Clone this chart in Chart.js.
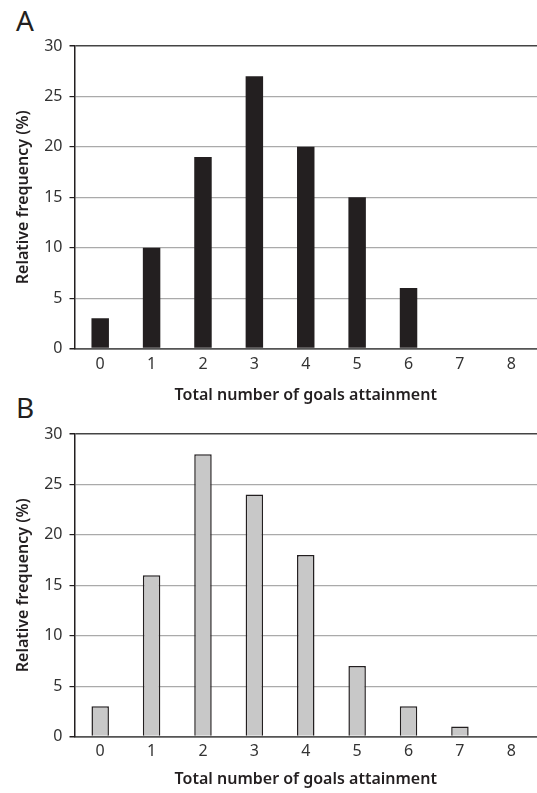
<!DOCTYPE html>
<html>
<head>
<meta charset="utf-8">
<script src="https://cdn.jsdelivr.net/npm/chart.js@4/dist/chart.umd.min.js"></script>
<style>
  body { margin: 0; background: #fff; width: 537px; height: 793px; position: relative; overflow: hidden; }
  .panel { position: absolute; left: 0; width: 537px; }
  .tag { position: absolute; left: 16px; font-family: "Noto Sans", sans-serif; font-size: 28px; color: #231f20; line-height: 1; }
</style>
</head>
<body>
<div class="tag" style="top:6px">A</div>
<div class="tag" style="top:393px">B</div>
<div class="panel" style="top:0; height:409px"><canvas id="canvasA"></canvas></div>
<div class="panel" style="top:389px; height:404px"><canvas id="canvasB"></canvas></div>
<script>
var goals = ['0', '1', '2', '3', '4', '5', '6', '7', '8'];
var freqA = [3, 10, 19, 27, 20, 15, 6, 0, 0];
var freqB = [3, 16, 28, 24, 18, 7, 3, 1, 0];
var yTicks = [0, 5, 10, 15, 20, 25, 30];

var fontTick = { family: 'Noto Sans', size: 16 };
var fontTitle = { family: 'Noto Sans', size: 16, weight: '600' };

// padTop: space above the plot, tickPad / titlePad: gaps under the x axis
function makeOptions(padTop, tickPad, titlePad){
    return {
        responsive: true,
        maintainAspectRatio: false,
        animation: false,
        layout: { padding: { top: padTop, right: 0, left: 10, bottom: 0 } },
        plugins: { legend: { display: false }, tooltip: { enabled: false } },
        scales: {
            x: {
                grid: { display: false, drawTicks: false },
                border: { display: true, color: '#555555', width: 1.5 },
                ticks: { color: '#333333', font: fontTick, padding: tickPad },
                title: { display: true, text: 'Total number of goals attainment', color: '#231f20', font: fontTitle, padding: { top: titlePad } }
            },
            y: {
                min: 0,
                max: 30,
                afterBuildTicks: function(axis){
                    axis.ticks = yTicks.map(function(v){ return { value: v }; });
                },
                grid: {
                    color: function(ctx){
                        if (ctx.tick && ctx.tick.value === 30) return '#444444';
                        if (ctx.tick && ctx.tick.value === 0) return '#555555';
                        return '#aaaaaa';
                    },
                    lineWidth: function(ctx){
                        return (ctx.tick && (ctx.tick.value === 30 || ctx.tick.value === 0)) ? 1.5 : 1.2;
                    },
                    tickColor: '#231f20',
                    tickLength: 5
                },
                border: { display: true, color: '#231f20', width: 1.5 },
                ticks: { color: '#333333', font: fontTick, padding: 7 },
                title: { display: true, text: 'Relative frequency (%)', color: '#231f20', font: fontTitle, padding: { bottom: 4 } }
            }
        }
    };
}

new Chart(document.getElementById('canvasA'), {
    type: 'bar',
    data: {
        labels: goals,
        datasets: [{
            label: 'A',
            data: freqA,
            backgroundColor: '#231f20',
            borderWidth: 0,
            barPercentage: 0.34,
            categoryPercentage: 1
        }]
    },
    options: makeOptions(46, 6, 6)
});

new Chart(document.getElementById('canvasB'), {
    type: 'bar',
    data: {
        labels: goals,
        datasets: [{
            label: 'B',
            data: freqB,
            backgroundColor: '#c8c8c8',
            borderColor: '#231f20',
            borderWidth: 1.5,
            borderSkipped: 'bottom',
            barPercentage: 0.34,
            categoryPercentage: 1
        }]
    },
    options: makeOptions(45, 5, 4)
});
</script>
</body>
</html>
